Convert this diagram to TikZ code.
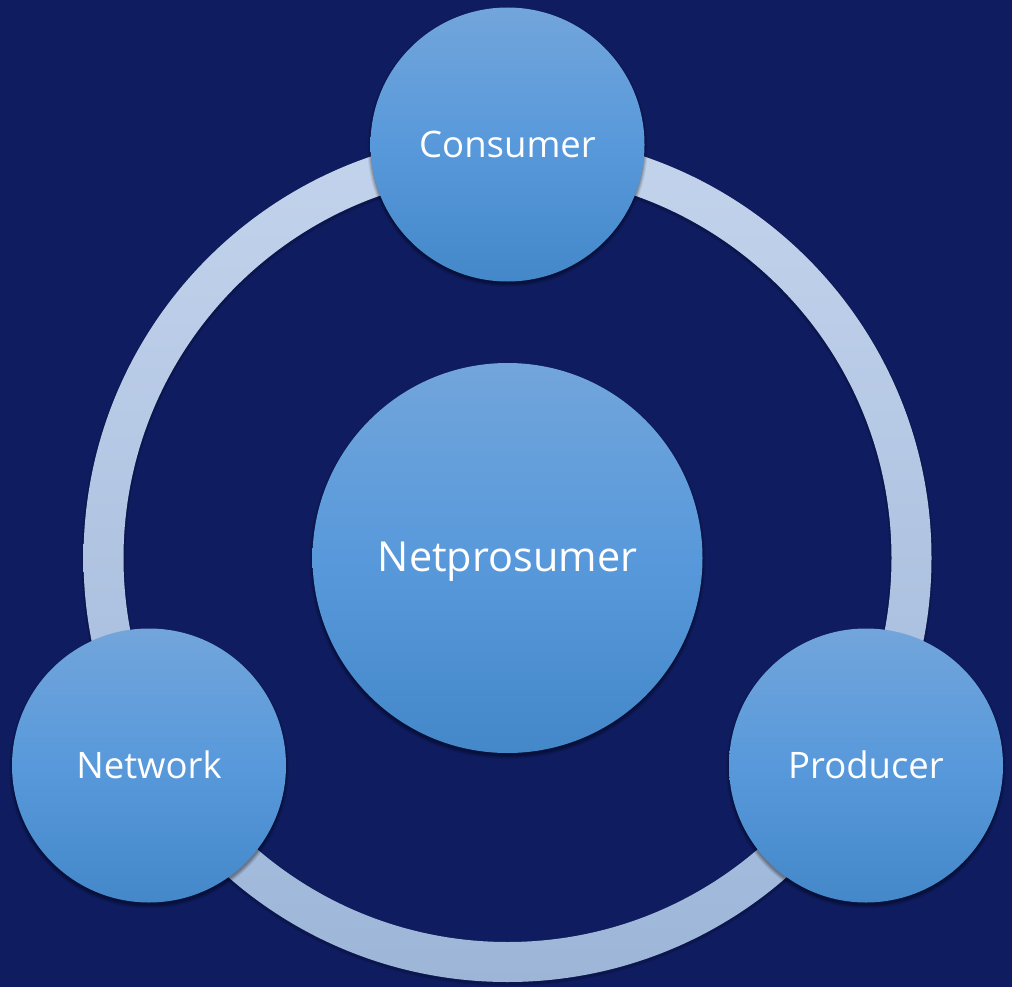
\documentclass[tikz,border=0pt]{standalone}
\usepackage{fontspec}
\setmainfont{Open Sans}
\usetikzlibrary{calc}
\definecolor{bgnavy}{HTML}{0F1C5F}
\definecolor{ballTop}{HTML}{72A5DB}
\definecolor{ballMid}{HTML}{5899DB}
\definecolor{ballBot}{HTML}{4488C9}
\definecolor{ringTop}{HTML}{C3D3EC}
\definecolor{ringBot}{HTML}{9DB6D8}
\pgfdeclareverticalshading{ballshade}{100bp}{color(0bp)=(ballBot); color(25bp)=(ballBot); color(50bp)=(ballMid); color(75bp)=(ballTop); color(100bp)=(ballTop)}
\tikzset{
  ball/.style={circle,inner sep=0pt,shading=ballshade,text=white,font=\fontsize{#1}{#1}\selectfont},
  small/.style={ball=36.5pt,minimum size=274pt},
  big/.style={ball=41.4pt,minimum size=390pt},
  ringshape/.style={even odd rule,top color=ringTop,bottom color=ringBot,draw=none}
}
\newcommand{\softshadow}[3]{%
  \foreach \d/\o in {3/0.07,2/0.09,1/0.11,0/0.14}{
    \fill[black,opacity=\o] (#1,#2+3) circle[radius=#3+\d];
  }}
\newcommand{\nudge}[2]{\raisebox{#1}[\height][\depth]{#2}}
\begin{document}
\begin{tikzpicture}[x=1pt,y=-1pt]
\useasboundingbox (0,0) rectangle (1012,987);
\fill[bgnavy] (0,0) rectangle (1012,987);
\coordinate (hub) at (507.5,558);
% ring
\foreach \d/\o in {2/0.08,1/0.10}{
  \fill[black,opacity=\o,even odd rule] (507.5,560) circle[radius=424+\d] circle[radius=384-\d];
}
\shade[ringshape] (hub) circle[radius=424] (hub) circle[radius=384];
% shadows
\softshadow{507.5}{144}{137}
\softshadow{866}{765.5}{137}
\softshadow{149}{765.5}{137}
\softshadow{507.5}{558}{195}
% circles
\node[small] (consumer) at (507.5,144.5) {Consumer};
\node[small] (producer) at (866,765.5) {\nudge{1pt}{Producer}};
\node[small] (network) at (149,765.5) {\nudge{1pt}{Network}};
\node[big] (net) at (hub) {\nudge{-4pt}{Netprosumer}};
\end{tikzpicture}
\end{document}
